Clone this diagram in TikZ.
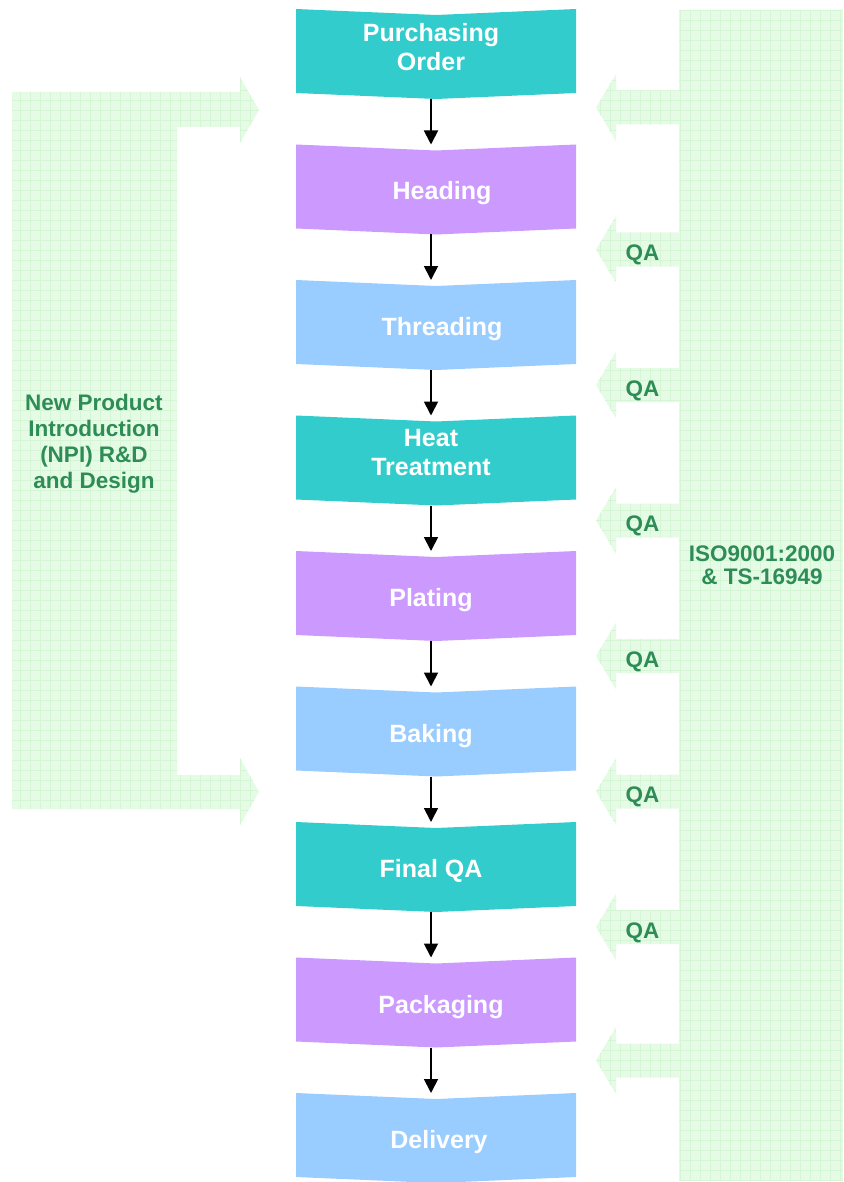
\documentclass[tikz,border=0pt]{standalone}
\usepackage{fontspec}
\setmainfont{Liberation Sans}
\usetikzlibrary{arrows.meta}
\definecolor{teal1}{RGB}{51,204,204}
\definecolor{violet1}{RGB}{204,153,255}
\definecolor{sky1}{RGB}{153,204,255}
\definecolor{gfill}{RGB}{230,251,230}
\definecolor{gline}{RGB}{212,246,212}
\definecolor{gtext}{RGB}{46,140,87}
\begin{document}
\begin{tikzpicture}[x=1pt,y=-1pt,
  boxn/.style={minimum width=280pt, minimum height=90pt, inner sep=0pt, outer sep=0pt},
  boxtxt/.style={text=white, font=\fontsize{25}{29}\selectfont\bfseries, align=center, inner sep=0pt},
  gtxt/.style={text=gtext, font=\fontsize{22.5}{26}\selectfont\bfseries, align=center, inner sep=0pt},
  gridln/.style={gline, line width=0.7pt, step=10pt},
  flow/.style={-{Triangle[width=14pt,length=14pt]}, line width=1.8pt, black}]
\useasboundingbox (0,0) rectangle (843,1182);

% left green band (NPI)
\begin{scope}
\clip (12,92) -- (240,92) -- (240,77) -- (259,110) -- (240,143) -- (240,127) -- (177,127)
  -- (177,775) -- (240,775) -- (240,758) -- (259,792) -- (240,825) -- (240,809) -- (12,809) -- cycle;
\fill[gfill] (0,0) rectangle (843,1182);
\draw[gridln] (0,0) grid (843,1182);
\end{scope}

% right green band (ISO)
\begin{scope}
\clip (843,10) -- (679,10)
  \foreach \c in {107.5,249.5,385,520.5,656,791.5,927,1060.5} {
    -- (679,\c-17) -- (616,\c-17) -- (616,\c-33.5) -- (596,\c) -- (616,\c+33.5) -- (616,\c+17) -- (679,\c+17)}
  -- (679,1181) -- (843,1181) -- cycle;
\fill[gfill] (0,0) rectangle (843,1182);
\draw[gridln] (0,0) grid (843,1182);
\end{scope}

% process boxes
\foreach \c [count=\k from 0] in {teal1,violet1,sky1,teal1,violet1,sky1,teal1,violet1,sky1} {
  \node[boxn] (b\k) at (436,{54+135.5*\k}) {};
  \fill[\c] (b\k.north west) -- ([yshift=-6pt]b\k.north) -- (b\k.north east)
    -- ([yshift=6pt]b\k.south east) -- (b\k.south) -- ([yshift=6pt]b\k.south west) -- cycle;
}

% box texts
\node[boxtxt] (t0) at (431,47) {Purchasing\\Order};
\node[boxtxt, anchor=base] (t1) at (442,200) {Heading};
\node[boxtxt, anchor=base] (t2) at (442,335.5) {Threading};
\node[boxtxt] (t3) at (431,453) {Heat\\Treatment};
\node[boxtxt, anchor=base] (t4) at (431,606.5) {Plating};
\node[boxtxt, anchor=base] (t5) at (431,742) {Baking};
\node[boxtxt, anchor=base] (t6) at (431,877.5) {Final QA};
\node[boxtxt, anchor=base] (t7) at (441,1013) {Packaging};
\node[boxtxt, anchor=base] (t8) at (439,1148) {Delivery};

% flow arrows
\foreach \k in {0,...,7} {
  \pgfmathtruncatemacro{\j}{\k+1}
  \draw[flow] ([xshift=-5pt]b\k.south) -- ([xshift=-5pt]b\j.north);
}

% green labels
\node[gtxt] (npi) at (94,444) {New Product\\Introduction\\(NPI) R\&D\\and Design};
\node[gtxt, font=\fontsize{22.5}{23.5}\selectfont\bfseries] (iso) at (762,565) {ISO9001:2000\\\& TS-16949};
\foreach \c [count=\i] in {249.5,385,520.5,656,791.5,927} {
  \node[gtxt, anchor=base] (qa\i) at (642.5,{\c+11.2}) {QA};
}
\end{tikzpicture}
\end{document}
